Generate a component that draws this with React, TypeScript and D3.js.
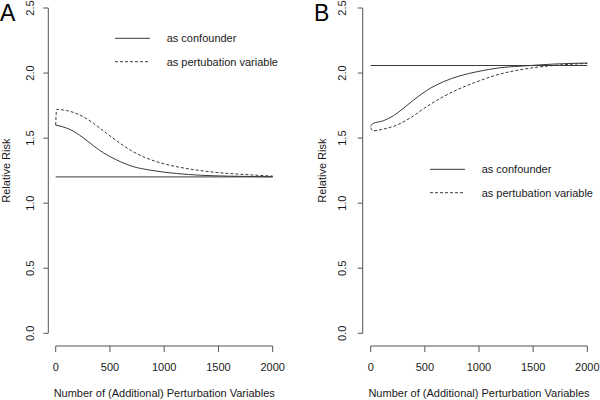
import React from "react";
import * as d3 from "d3";

// ---- data ----
const xTicks = [0, 500, 1000, 1500, 2000];
const yTicks = [0, 0.5, 1, 1.5, 2, 2.5];

const aConfX = [0, 130, 250, 350, 440, 560, 715, 870, 1115, 1330, 1575, 1800, 2000];
const aConfY = [1.6, 1.567, 1.505, 1.44, 1.387, 1.333, 1.281, 1.254, 1.228, 1.215, 1.208, 1.205, 1.203];
const aPertX = [0, 8, 100, 225, 350, 470, 595, 715, 870, 1025, 1240, 1485, 1730, 2000];
const aPertY = [1.6, 1.72, 1.712, 1.677, 1.613, 1.536, 1.459, 1.395, 1.336, 1.297, 1.262, 1.236, 1.221, 1.208];
const aRef = 1.202;

const bConfX = [0, 20, 115, 210, 300, 395, 515, 670, 825, 980, 1195, 1440, 1685, 2000];
const bConfY = [1.59, 1.612, 1.633, 1.672, 1.728, 1.792, 1.865, 1.933, 1.979, 2.01, 2.041, 2.056, 2.069, 2.077];
const bPertX = [0, 20, 115, 240, 365, 515, 670, 825, 980, 1130, 1285, 1500, 1745, 2000];
const bPertY = [1.58, 1.556, 1.569, 1.6, 1.655, 1.741, 1.818, 1.882, 1.933, 1.977, 2.01, 2.041, 2.062, 2.074];
const bRef = 2.058;

const legendLabels = ["as confounder", "as pertubation variable"];
const xTitle = "Number of (Additional) Perturbation Variables";
const yTitle = "Relative Risk";

const FONT = "'Liberation Sans', Arial, Helvetica, sans-serif";
const LINE = "#3a3a3a";
const AXIS = "#555";
const TEXT = "#1a1a1a";

type PanelProps = {
  letter: string;
  letterX: number;
  axisX: number;
  x0: number;
  x1: number;
  tickLabelX: number;
  titleX: number;
  confX: number[];
  confY: number[];
  pertX: number[];
  pertY: number[];
  refY: number;
  legendX: number;
  legendY: number;
};

function Panel(p: PanelProps) {
  const x = d3.scaleLinear().domain([0, 2000]).range([p.x0, p.x1]);
  const y = d3.scaleLinear().domain([0, 2.5]).range([333.3, 8]);
  const axisY = 346;
  const line = d3
    .line<[number, number]>()
    .x((d) => x(d[0]))
    .y((d) => y(d[1]))
    .curve(d3.curveMonotoneX);
  const conf = p.confX.map((v, i) => [v, p.confY[i]] as [number, number]);
  const pert = p.pertX.map((v, i) => [v, p.pertY[i]] as [number, number]);
  const midX = (p.x0 + p.x1) / 2;
  return (
    <g fontFamily={FONT}>
      <text x={p.letterX} y={20.5} fontSize={23} fill="#000">
        {p.letter}
      </text>
      {/* y axis */}
      <line x1={p.axisX} x2={p.axisX} y1={y(0)} y2={y(2.5)} stroke={AXIS} strokeWidth={1} />
      {yTicks.map((t) => (
        <g key={t}>
          <line x1={p.axisX - 5} x2={p.axisX} y1={y(t)} y2={y(t)} stroke={AXIS} />
          <text
            transform={`translate(${p.tickLabelX},${y(t)}) rotate(-90)`}
            textAnchor="middle"
            fontSize={11}
            fill={TEXT}
          >
            {d3.format(".1f")(t)}
          </text>
        </g>
      ))}
      <text
        transform={`translate(${p.titleX},${(y(0) + y(2.5)) / 2}) rotate(-90)`}
        textAnchor="middle"
        fontSize={11}
        fill={TEXT}
      >
        {yTitle}
      </text>
      {/* x axis */}
      <line x1={x(0)} x2={x(2000)} y1={axisY} y2={axisY} stroke={AXIS} />
      {xTicks.map((t) => (
        <g key={t}>
          <line x1={x(t)} x2={x(t)} y1={axisY} y2={axisY + 6} stroke={AXIS} />
          <text x={x(t)} y={371} textAnchor="middle" fontSize={11} fill={TEXT}>
            {t}
          </text>
        </g>
      ))}
      <text x={midX} y={397} textAnchor="middle" fontSize={11} fill={TEXT}>
        {xTitle}
      </text>
      {/* reference line */}
      <line x1={x(0)} x2={x(2000)} y1={y(p.refY)} y2={y(p.refY)} stroke={LINE} strokeWidth={1} />
      {/* curves */}
      <path d={line(conf) ?? ""} fill="none" stroke={LINE} strokeWidth={1} />
      <path d={line(pert) ?? ""} fill="none" stroke={LINE} strokeWidth={1} strokeDasharray="3,2" />
      {/* legend */}
      {legendLabels.map((lab, i) => {
        const ly = p.legendY + i * 23.4;
        return (
          <g key={lab}>
            <line
              x1={p.legendX}
              x2={p.legendX + 35}
              y1={ly}
              y2={ly}
              stroke={LINE}
              strokeDasharray={i === 1 ? "3,2" : undefined}
            />
            <text x={p.legendX + 51.7} y={ly + 4} fontSize={11} fill={TEXT}>
              {lab}
            </text>
          </g>
        );
      })}
    </g>
  );
}

export default function App() {
  return (
    <svg
      width={600}
      height={400}
      style={{ position: "absolute", left: 0, top: 0, background: "#fff" }}
    >
      <rect width={600} height={400} fill="#fff" />
      <Panel
        letter="A"
        letterX={0}
        axisX={48.3}
        x0={55.7}
        x1={272.7}
        tickLabelX={34}
        titleX={9.5}
        confX={aConfX}
        confY={aConfY}
        pertX={aPertX}
        pertY={aPertY}
        refY={aRef}
        legendX={115}
        legendY={38.3}
      />
      <Panel
        letter="B"
        letterX={314}
        axisX={362.7}
        x0={370.7}
        x1={587.3}
        tickLabelX={345.5}
        titleX={325.5}
        confX={bConfX}
        confY={bConfY}
        pertX={bPertX}
        pertY={bPertY}
        refY={bRef}
        legendX={430}
        legendY={169.3}
      />
    </svg>
  );
}
